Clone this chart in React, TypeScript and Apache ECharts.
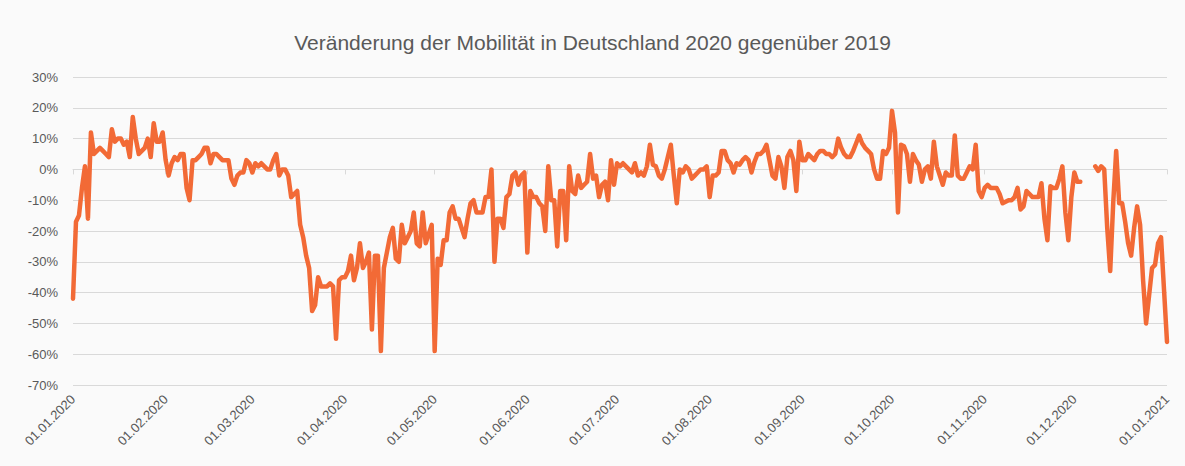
import React, { useEffect, useRef } from "react";
import * as echarts from "echarts";

const TITLE = "Veränderung der Mobilität in Deutschland 2020 gegenüber 2019";

// daily change in % vs 2019, by month
const jan = [-42, -17, -15, -6, 1, -16, 12, 5, 6, 7, 6, 5, 4, 13, 9, 10, 10, 8, 9, 4, 17, 10, 5, 6, 7, 10, 4, 15, 9, 9, 12];
const feb = [3, -2, 2, 4, 3, 5, 5, -6, -10, 3, 3, 4, 5, 7, 7, 2, 5, 5, 4, 3, 3, 3, -3, -5, -2, -1, -1, 3, 2];
const mar = [-1, 2, 1, 2, 1, 0, 0, 3, 5, -2, 0, 0, -2, -9, -8, -7, -18, -22, -28, -32, -46, -44, -35, -38, -38, -38, -37, -38, -55, -36, -35];
const apr = [-35, -33, -28, -36, -32, -24, -32, -30, -27, -52, -28, -28, -59, -32, -27, -22, -19, -29, -30, -18, -24, -22, -20, -14, -24, -25, -14, -24, -21, -18];
const may = [-59, -29, -31, -23, -23, -14, -12, -16, -16, -19, -22, -16, -11, -10, -14, -14, -14, -9, -9, 0, -30, -16, -16, -19, -9, -8, -2, -1, -5, -2, -1];
const jun = [-27, -7, -9, -9, -11, -12, -20, 1, -10, -10, -25, -7, -7, -23, 1, -7, -8, -2, -6, -5, -4, 5, -3, -2, -9, -5, -4, -10, 3, -5];
const jul = [2, 1, 2, 1, 0, -1, 2, -2, -1, -2, 1, 8, 1.5, 1, -2, -3, 0, 4, 8, -2, -11, 0, -1, 1, 0, -3, -2, -1, 0, 0, 1];
const aug = [-9, -2, -2, -1, 6, 6, 3, 2, -1, 2, 1.5, 3, 4, 3, -1, 2.5, 5, 5, 6, 8, 3, -2, -3, 4, 1, -6, 4, 6, 3, -7, 9];
const sep = [3, 3, 5, 4, 3, 5, 6, 6, 5, 5, 4, 5, 10, 7, 5, 4, 4, 6, 8.5, 11, 8.5, 7, 6, 5, 0, -3, -3, 6, 5, 7];
const oct = [19, 12, -14, 8, 7.5, 5, -4, 5, 3, 1.5, -4, 0, 1, -3, 9, 1, -2, -5, -1, -2, -2, 11, -2, -3, -3, -1, 1, 0, 8, -7, -9];
const nov = [-6, -5, -6, -6, -6, -8, -11, -10.5, -10, -10, -9, -6, -13, -12, -7, -8, -9, -9, -9, -4.5, -16, -23, -5.5, -6, -6, -3, 1, -14, -23, -9];
const dec = [-1, -4, -4, null, null, null, null, 1, -0.5, 1, 0, -19, -33, -11, 6, -11, -11, -17, -24, -28, -19, -12, -18, -36, -50, -41, -32, -31, -24, -22, -39];
const jan2021 = [-56];

const values: (number | null)[] = [...jan, ...feb, ...mar, ...apr, ...may, ...jun, ...jul, ...aug, ...sep, ...oct, ...nov, ...dec, ...jan2021];

// category dates 01.01.2020 .. 01.01.2021
const pad = (n: number) => (n < 10 ? "0" + n : "" + n);
const dates: string[] = [];
for (let i = 0; i < values.length; i++) {
  const d = new Date(Date.UTC(2020, 0, 1 + i));
  dates.push(pad(d.getUTCDate()) + "." + pad(d.getUTCMonth() + 1) + "." + d.getUTCFullYear());
}

const yTicks = { min: -70, max: 30, step: 10 };

const isMonthStart = (_i: number, v: string) => v.startsWith("01.");

export default function App() {
  const ref = useRef<HTMLDivElement>(null);
  useEffect(() => {
    if (!ref.current) return;
    const chart = echarts.init(ref.current, null, { renderer: "svg" });
    const font = "'Liberation Sans', Arial, sans-serif";
    chart.setOption({
      animation: false,
      backgroundColor: "#fafafa",
      textStyle: { fontFamily: font },
      title: {
        text: TITLE,
        left: "center",
        top: 27,
        textStyle: { fontSize: 21, fontWeight: "normal", color: "#595959", fontFamily: font },
      },
      grid: { left: 73, right: 18, top: 77, bottom: 81, containLabel: false },
      xAxis: [
        {
          type: "category",
          data: dates,
          boundaryGap: false,
          position: "bottom",
          axisLine: { show: false, onZero: false },
          axisTick: { show: false },
          splitLine: { show: false },
          axisLabel: {
            interval: isMonthStart,
            rotate: 45,
            margin: 12,
            fontSize: 13,
            color: "#595959",
            fontFamily: font,
          },
        },
        {
          type: "category",
          data: dates,
          boundaryGap: false,
          axisLine: { show: true, onZero: true, lineStyle: { color: "#d9d9d9", width: 1 } },
          axisTick: { show: true, inside: true, interval: isMonthStart, length: 5, lineStyle: { color: "#d9d9d9" } },
          axisLabel: { show: false },
          splitLine: { show: false },
        },
      ],
      yAxis: {
        type: "value",
        min: yTicks.min,
        max: yTicks.max,
        interval: yTicks.step,
        axisLine: { show: false },
        axisTick: { show: false },
        axisLabel: {
          formatter: (v: number) => v + "%",
          fontSize: 13,
          color: "#595959",
          margin: 15,
          fontFamily: font,
        },
        splitLine: { lineStyle: { color: "#d9d9d9", width: 1 } },
      },
      series: [
        {
          type: "line",
          xAxisIndex: 0,
          data: values,
          showSymbol: false,
          connectNulls: false,
          lineStyle: { color: "#F26A36", width: 4.5, join: "round", cap: "round" },
          itemStyle: { color: "#F26A36" },
        },
      ],
    });
    return () => chart.dispose();
  }, []);
  return <div ref={ref} style={{ position: "fixed", left: 0, top: 0, width: 1185, height: 466 }} />;
}
